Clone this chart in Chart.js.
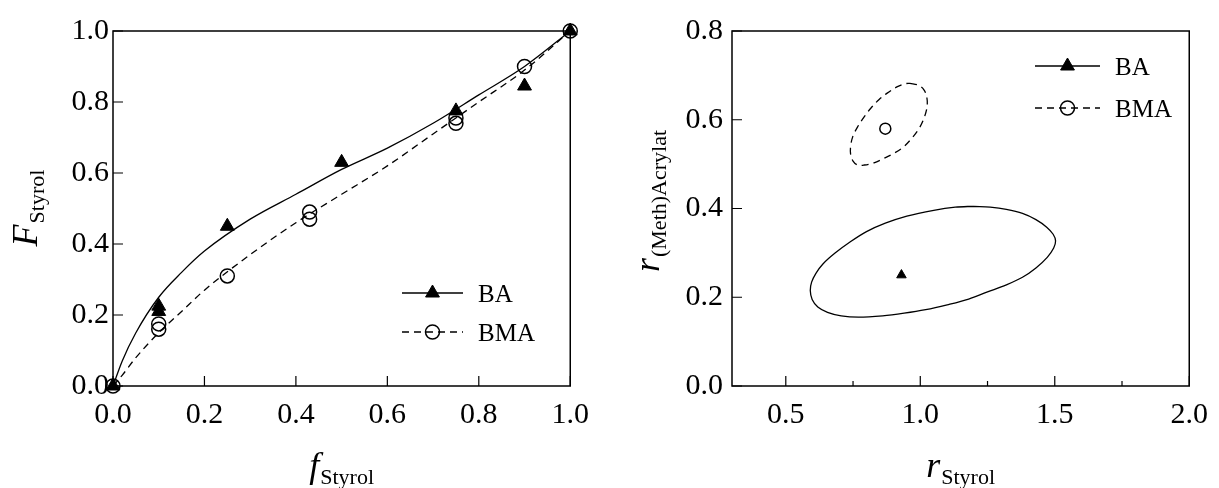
<!DOCTYPE html>
<html>
<head>
<meta charset="utf-8">
<script src="https://cdn.jsdelivr.net/npm/chart.js@4.4.1/dist/chart.umd.min.js"></script>
<style>
  html, body { margin: 0; padding: 0; background: #fff; }
  #wrap { position: relative; width: 1219px; height: 488px; }
  canvas { position: absolute; top: 0; }
</style>
</head>
<body>
<div id="wrap">
  <canvas id="compChart" width="600" height="488" style="left:0"></canvas>
  <canvas id="rChart" width="619" height="488" style="left:600px"></canvas>
</div>
<script>
var seriesNames = ['BA', 'BMA'];

// left panel: F_Styrol vs f_Styrol
var fGrid    = [0, 0.02, 0.05, 0.1, 0.15, 0.2, 0.3, 0.4, 0.5, 0.6, 0.7, 0.8, 0.9, 1.0];
var baFitF   = [0, 0.07, 0.15, 0.25, 0.32, 0.38, 0.47, 0.54, 0.61, 0.67, 0.74, 0.82, 0.90, 1.0];
var bmaFitF  = [0, 0.03, 0.08, 0.15, 0.21, 0.27, 0.37, 0.46, 0.54, 0.62, 0.71, 0.80, 0.89, 1.0];
var baMeasX  = [0, 0.1, 0.1, 0.25, 0.5, 0.75, 0.9, 1.0];
var baMeasY  = [0, 0.225, 0.21, 0.45, 0.63, 0.775, 0.845, 1.0];
var bmaMeasX = [0, 0.1, 0.1, 0.25, 0.43, 0.43, 0.75, 0.75, 0.9, 1.0];
var bmaMeasY = [0, 0.175, 0.16, 0.31, 0.49, 0.47, 0.755, 0.74, 0.90, 1.0];
var compXTicks = [0, 0.2, 0.4, 0.6, 0.8, 1.0];
var compYTicks = [0, 0.2, 0.4, 0.6, 0.8, 1.0];

// right panel: r values with confidence regions (outlines)
var baR  = [0.93, 0.25];
var bmaR = [0.87, 0.58];
var baEllX  = [1.20, 1.26, 1.32, 1.38, 1.43, 1.47, 1.494, 1.503, 1.496, 1.472, 1.43, 1.38, 1.32, 1.25, 1.18, 1.10, 1.02, 0.94, 0.86, 0.77, 0.706, 0.655, 0.619, 0.598, 0.591, 0.596, 0.612, 0.638, 0.682, 0.74, 0.80, 0.87, 0.95, 1.05, 1.13, 1.20];
var baEllY  = [0.405, 0.403, 0.398, 0.389, 0.375, 0.358, 0.342, 0.327, 0.311, 0.29, 0.266, 0.245, 0.228, 0.212, 0.196, 0.183, 0.172, 0.164, 0.158, 0.155, 0.158, 0.166, 0.178, 0.195, 0.215, 0.234, 0.254, 0.275, 0.299, 0.325, 0.348, 0.367, 0.383, 0.396, 0.403, 0.405];
var bmaEllX = [0.962, 0.992, 1.013, 1.024, 1.025, 1.011, 0.992, 0.968, 0.938, 0.901, 0.865, 0.828, 0.792, 0.767, 0.750, 0.741, 0.741, 0.749, 0.767, 0.792, 0.816, 0.846, 0.877, 0.913, 0.942, 0.962];
var bmaEllY = [0.682, 0.678, 0.668, 0.652, 0.628, 0.599, 0.577, 0.558, 0.539, 0.524, 0.513, 0.503, 0.498, 0.498, 0.507, 0.522, 0.540, 0.562, 0.584, 0.607, 0.626, 0.645, 0.660, 0.674, 0.681, 0.682];
var rXTicks = [0.5, 1.0, 1.5, 2.0];
var rXMinor = [0.75, 1.25, 1.75];
var rYTicks = [0, 0.2, 0.4, 0.6, 0.8];

var SERIF = '"Liberation Serif", "Times New Roman", serif';

function toXY(xs, ys) {
    return xs.map(function (x, i) { return { x: x, y: ys[i] }; });
}

function drawMarker(ctx, style, x, y, r) {
    ctx.beginPath();
    if (style == 'triangle') {
        var rad = 0;
        ctx.moveTo(x + Math.sin(rad) * r, y - Math.cos(rad) * r);
        rad += Math.PI * 2 / 3;
        ctx.lineTo(x + Math.sin(rad) * r, y - Math.cos(rad) * r);
        rad += Math.PI * 2 / 3;
        ctx.lineTo(x + Math.sin(rad) * r, y - Math.cos(rad) * r);
        ctx.closePath();
        ctx.fill();
        ctx.lineWidth = 1;
        ctx.stroke();
    } else {
        ctx.arc(x, y, r, 0, Math.PI * 2);
        ctx.lineWidth = 1.5;
        ctx.stroke();
    }
}

function drawTitle(ctx, main, sub, x, y, rotate) {
    ctx.save();
    ctx.translate(x, y);
    if (rotate) ctx.rotate(-Math.PI / 2);
    ctx.textAlign = 'left';
    ctx.textBaseline = 'alphabetic';
    ctx.font = 'italic 36px ' + SERIF;
    var wm = ctx.measureText(main).width;
    ctx.font = '22px ' + SERIF;
    var ws = ctx.measureText(sub).width;
    var start = -(wm + ws + 1) / 2;
    ctx.font = 'italic 36px ' + SERIF;
    ctx.fillText(main, start, 0);
    ctx.font = '22px ' + SERIF;
    ctx.fillText(sub, start + wm + 1, 7);
    ctx.restore();
}

// frame, inward ticks, legend and axis titles
var decor = {
    id: 'decor',
    afterDraw: function (chart, args, o) {
        var ctx = chart.ctx, a = chart.chartArea;
        var xs = chart.scales.x, ys = chart.scales.y;
        ctx.save();
        ctx.strokeStyle = '#000';
        ctx.fillStyle = '#000';
        ctx.lineWidth = 1.5;
        ctx.strokeRect(a.left, a.top, a.right - a.left, a.bottom - a.top);

        ctx.lineWidth = 1.2;
        ctx.beginPath();
        o.xTicks.forEach(function (v) {
            var px = xs.getPixelForValue(v);
            ctx.moveTo(px, a.bottom); ctx.lineTo(px, a.bottom - o.tickLen);
        });
        (o.xMinor || []).forEach(function (v) {
            var px = xs.getPixelForValue(v);
            ctx.moveTo(px, a.bottom); ctx.lineTo(px, a.bottom - o.minorLen);
        });
        o.yTicks.forEach(function (v) {
            var py = ys.getPixelForValue(v);
            ctx.moveTo(a.left, py); ctx.lineTo(a.left + o.tickLen, py);
        });
        ctx.stroke();

        // legend
        o.legend.forEach(function (item) {
            ctx.lineWidth = 1.3;
            ctx.setLineDash(item.dash);
            ctx.beginPath();
            ctx.moveTo(o.legX1, item.y); ctx.lineTo(o.legX2, item.y);
            ctx.stroke();
            ctx.setLineDash([]);
            drawMarker(ctx, item.marker, (o.legX1 + o.legX2) / 2, item.y, item.r);
            ctx.font = '25px ' + SERIF;
            ctx.textAlign = 'left';
            ctx.textBaseline = 'alphabetic';
            ctx.fillText(item.label, o.legX2 + 15, item.y + 8.5);
        });

        var cx = (a.left + a.right) / 2;
        drawTitle(ctx, o.xTitle[0], o.xTitle[1], cx, 477, false);
        drawTitle(ctx, o.yTitle[0], o.yTitle[1], o.yTitleX, o.yTitleY, true);
        ctx.restore();
    }
};

function axis(min, max, ticks, pad, fit, isX) {
    var s = {
        type: 'linear',
        min: min,
        max: max,
        grid: { display: false, drawTicks: false },
        border: { display: false },
        afterBuildTicks: function (scale) {
            scale.ticks = ticks.map(function (v) { return { value: v }; });
        },
        ticks: {
            padding: pad,
            color: '#000',
            autoSkip: false,
            maxRotation: 0,
            font: { family: SERIF, size: 30 },
            callback: function (v) { return v.toFixed(1); }
        }
    };
    s.afterFit = isX
        ? function (scale) { scale.height = fit; }
        : function (scale) { scale.width = fit; };
    return s;
}

function lineSet(data, dash, mode) {
    var d = {
        data: data,
        showLine: true,
        pointRadius: 0,
        borderColor: '#000',
        borderWidth: 1.3,
        borderDash: dash,
        fill: false,
        clip: false
    };
    if (mode == 'monotone') d.cubicInterpolationMode = 'monotone';
    else d.tension = 0.35;
    return d;
}

function pointSet(data, style, r) {
    return {
        data: data,
        showLine: false,
        pointStyle: style,
        pointRadius: r,
        pointBackgroundColor: style == 'triangle' ? '#000' : 'rgba(0,0,0,0)',
        pointBorderColor: '#000',
        pointBorderWidth: style == 'triangle' ? 1 : 1.5,
        clip: false
    };
}

var compChart = new Chart(document.getElementById('compChart'), {
    type: 'scatter',
    data: {
        datasets: [
            lineSet(toXY(fGrid, baFitF), [], 'monotone'),
            lineSet(toXY(fGrid, bmaFitF), [7, 5], 'monotone'),
            pointSet(toXY(baMeasX, baMeasY), 'triangle', 8),
            pointSet(toXY(bmaMeasX, bmaMeasY), 'circle', 7)
        ]
    },
    options: {
        responsive: false,
        animation: false,
        devicePixelRatio: 1,
        events: [],
        layout: { padding: { top: 31, right: 23, left: 0, bottom: 0 } },
        plugins: {
            legend: { display: false },
            tooltip: { enabled: false },
            decor: {
                xTicks: compXTicks, yTicks: compYTicks, tickLen: 10,
                legX1: 402, legX2: 463,
                legend: [
                    { label: seriesNames[0], y: 293, dash: [], marker: 'triangle', r: 8 },
                    { label: seriesNames[1], y: 332, dash: [7, 5], marker: 'circle', r: 7 }
                ],
                xTitle: ['f', 'Styrol'],
                yTitle: ['F', 'Styrol'], yTitleX: 37, yTitleY: 208
            }
        },
        scales: {
            x: axis(0, 1, compXTicks, 11, 102, true),
            y: axis(0, 1, compYTicks, 4, 113, false)
        }
    },
    plugins: [decor]
});

var rChart = new Chart(document.getElementById('rChart'), {
    type: 'scatter',
    data: {
        datasets: [
            lineSet(toXY(baEllX, baEllY), [], 'tension'),
            lineSet(toXY(bmaEllX, bmaEllY), [7, 5], 'tension'),
            pointSet([{ x: baR[0], y: baR[1] }], 'triangle', 5.5),
            pointSet([{ x: bmaR[0], y: bmaR[1] }], 'circle', 5.5)
        ]
    },
    options: {
        responsive: false,
        animation: false,
        devicePixelRatio: 1,
        events: [],
        layout: { padding: { top: 31, right: 21, left: 0, bottom: 0 } },
        plugins: {
            legend: { display: false },
            tooltip: { enabled: false },
            decor: {
                xTicks: rXTicks, xMinor: rXMinor, yTicks: rYTicks, tickLen: 10, minorLen: 5,
                legX1: 435, legX2: 500,
                legend: [
                    { label: seriesNames[0], y: 66, dash: [], marker: 'triangle', r: 8 },
                    { label: seriesNames[1], y: 108, dash: [7, 5], marker: 'circle', r: 7 }
                ],
                xTitle: ['r', 'Styrol'],
                yTitle: ['r', '(Meth)Acrylat'], yTitleX: 59, yTitleY: 201
            }
        },
        scales: {
            x: axis(0.3, 2.0, rXTicks, 11, 102, true),
            y: axis(0, 0.8, rYTicks, 9, 132, false)
        }
    },
    plugins: [decor]
});
</script>
</body>
</html>
